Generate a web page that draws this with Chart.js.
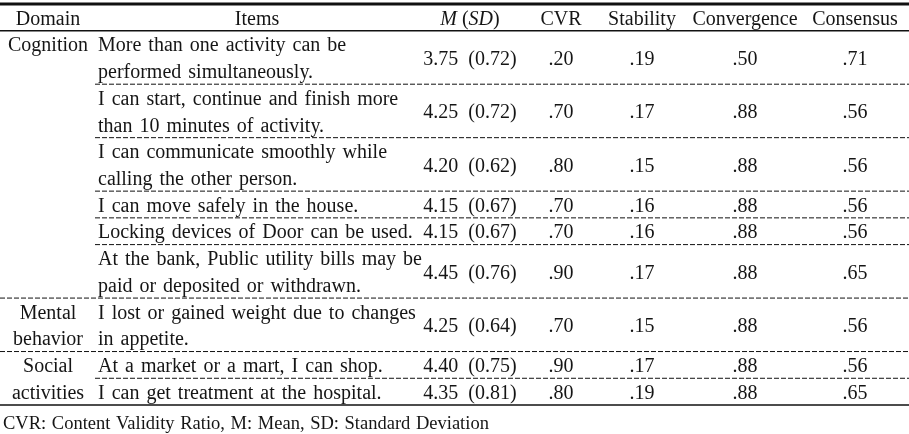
<!DOCTYPE html>
<html><head><meta charset="utf-8">
<script src="https://cdn.jsdelivr.net/npm/chart.js@4/dist/chart.umd.min.js"></script>
<style>html,body{margin:0;padding:0;background:#fff}canvas{display:block}</style>
</head><body>
<canvas id="c" width="909" height="434"></canvas>
<script>
// ---------- DATA ----------
const headers = ["Domain", "Items", "M (SD)", "CVR", "Stability", "Convergence", "Consensus"];
const domains = [["Cognition"], ["Mental", "behavior"], ["Social", "activities"]];
const domainItemCounts = [6, 1, 2];
const items = [
  ["More than one activity can be", "performed simultaneously."],
  ["I can start, continue and finish more", "than 10 minutes of activity."],
  ["I can communicate smoothly while", "calling the other person."],
  ["I can move safely in the house."],
  ["Locking devices of Door can be used."],
  ["At the bank, Public utility bills may be", "paid or deposited or withdrawn."],
  ["I lost or gained weight due to changes", "in appetite."],
  ["At a market or a mart, I can shop."],
  ["I can get treatment at the hospital."]
];
const means       = [3.75, 4.25, 4.20, 4.15, 4.15, 4.45, 4.25, 4.40, 4.35];
const sds         = [0.72, 0.72, 0.62, 0.67, 0.67, 0.76, 0.64, 0.75, 0.81];
const cvr         = [0.20, 0.70, 0.80, 0.70, 0.70, 0.90, 0.70, 0.90, 0.80];
const stability   = [0.19, 0.17, 0.15, 0.16, 0.16, 0.17, 0.15, 0.17, 0.19];
const convergence = [0.50, 0.88, 0.88, 0.88, 0.88, 0.88, 0.88, 0.88, 0.88];
const consensus   = [0.71, 0.56, 0.56, 0.56, 0.56, 0.65, 0.56, 0.56, 0.65];
const footnote = "CVR: Content Validity Ratio, M: Mean, SD: Standard Deviation";

// ---------- LAYOUT (x in table units = px of the 909 wide table) ----------
const layout = {
  tableWidth: 909,
  domainX: 48, itemsHeaderX: 257, itemsLeftX: 98, itemsRuleStart: 95,
  colX: [470, 561, 642, 745, 855],
  font: '20px "Liberation Serif", "Times New Roman", serif',
  italicFont: 'italic 20px "Liberation Serif", "Times New Roman", serif',
  footFont: '18.5px "Liberation Serif", "Times New Roman", serif',
  wordGap: 7,
  footWordSpacing: '1px',
  dy: 2,
  color: '#151515'
};

// line structure
const rowStart = [];
let ln = 1;
items.forEach(it => { rowStart.push(ln); ln += it.length; });
const totalLines = ln;
const fmt = v => v.toFixed(2).replace(/^0/, '');

// build datasets
const mk = (label, pts) => ({ label, data: pts, pointRadius: 0, showLine: false });
const headerPts = headers.map((h, i) => ({
  x: i === 0 ? layout.domainX : i === 1 ? layout.itemsHeaderX : layout.colX[i - 2],
  y: 0.5, t: h, a: 'center', hdr: true
}));
const domainPts = [];
let di = 0;
domains.forEach((d, g) => {
  const s = rowStart[di];
  d.forEach((line, j) => domainPts.push({ x: layout.domainX, y: s + j + 0.5, t: line, a: 'center' }));
  di += domainItemCounts[g];
});
const itemPts = [];
items.forEach((it, r) => it.forEach((line, j) => itemPts.push({ x: layout.itemsLeftX, y: rowStart[r] + j + 0.5, t: line, a: 'left', words: true })));
const mid = r => rowStart[r] + items[r].length / 2;
const msdPts = means.map((m, r) => ({ x: layout.colX[0], y: mid(r), t: m.toFixed(2) + '  (' + sds[r].toFixed(2) + ')', a: 'center' }));
const colPts = (arr, c) => arr.map((v, r) => ({ x: layout.colX[c], y: mid(r), t: fmt(v), a: 'center' }));

const datasets = [
  mk('header', headerPts), mk('domain', domainPts), mk('items', itemPts), mk('msd', msdPts),
  mk('cvr', colPts(cvr, 1)), mk('stability', colPts(stability, 2)),
  mk('convergence', colPts(convergence, 3)), mk('consensus', colPts(consensus, 4))
];

// rules
const rules = [];
rules.push({ y: 0, x0: 0, x1: layout.tableWidth, w: 3, dash: [] });
rules.push({ y: 1, x0: 0, x1: layout.tableWidth, w: 1.5, dash: [] });
let acc = 0;
domainItemCounts.forEach((n, g) => {
  for (let k = 1; k < n; k++) rules.push({ y: rowStart[acc + k], x0: layout.itemsRuleStart, x1: layout.tableWidth, w: 1, dash: [5, 2] });
  acc += n;
  if (g < domainItemCounts.length - 1) rules.push({ y: rowStart[acc], x0: 0, x1: layout.tableWidth, w: 1, dash: [5, 2] });
});
rules.push({ y: totalLines, x0: 0, x1: layout.tableWidth, w: 1.5, dash: [] });

function drawWords(ctx, text, x, y, gap) {
  const words = text.split(' ');
  ctx.textAlign = 'left';
  let cx = x;
  words.forEach((w, i) => {
    ctx.fillText(w, cx, y);
    cx += ctx.measureText(w).width + (i < words.length - 1 ? gap : 0);
  });
}

const tablePlugin = {
  id: 'table',
  beforeDatasetsDraw(chart) {
    const { ctx, scales: { x, y } } = chart;
    ctx.save();
    ctx.strokeStyle = '#111';
    rules.forEach(r => {
      const py = y.getPixelForValue(r.y);
      ctx.lineWidth = r.w;
      ctx.setLineDash(r.dash);
      ctx.beginPath();
      ctx.moveTo(x.getPixelForValue(r.x0), py);
      ctx.lineTo(x.getPixelForValue(r.x1), py);
      ctx.stroke();
    });
    ctx.restore();
  },
  afterDatasetsDraw(chart) {
    const { ctx } = chart;
    ctx.save();
    ctx.fillStyle = layout.color;
    ctx.textBaseline = 'middle';
    chart.data.datasets.forEach((ds, di) => {
      const meta = chart.getDatasetMeta(di);
      meta.data.forEach((el, i) => {
        const p = ds.data[i];
        const ty = el.y + layout.dy;
        if (p.hdr && p.t === 'M (SD)') {
          const parts = [['M', true], [' (', false], ['SD', true], [')', false]];
          let w = 0;
          parts.forEach(([s, it]) => { ctx.font = it ? layout.italicFont : layout.font; w += ctx.measureText(s).width; });
          let cx = el.x - w / 2;
          ctx.textAlign = 'left';
          parts.forEach(([s, it]) => { ctx.font = it ? layout.italicFont : layout.font; ctx.fillText(s, cx, ty); cx += ctx.measureText(s).width; });
          return;
        }
        ctx.font = layout.font;
        if (p.words) { drawWords(ctx, p.t, el.x, ty, layout.wordGap); return; }
        ctx.textAlign = p.a;
        ctx.fillText(p.t, el.x, ty);
      });
    });
    ctx.restore();
  },
  afterDraw(chart) {
    const { ctx, chartArea } = chart;
    ctx.save();
    ctx.fillStyle = layout.color;
    ctx.font = layout.footFont;
    ctx.wordSpacing = layout.footWordSpacing;
    ctx.textAlign = 'left';
    ctx.textBaseline = 'middle';
    ctx.fillText(footnote, 3, chartArea.bottom + 17 + layout.dy);
    ctx.restore();
  }
};

new Chart(document.getElementById('c'), {
  type: 'scatter',
  data: { datasets },
  options: {
    responsive: false,
    animation: false,
    devicePixelRatio: 1,
    layout: { padding: { top: 4, bottom: 29, left: 0, right: 0 } },
    plugins: { legend: { display: false }, tooltip: { enabled: false } },
    scales: {
      x: { type: 'linear', display: false, min: 0, max: layout.tableWidth },
      y: { type: 'linear', display: false, min: 0, max: totalLines, reverse: true }
    }
  },
  plugins: [tablePlugin]
});
</script>
</body></html>
